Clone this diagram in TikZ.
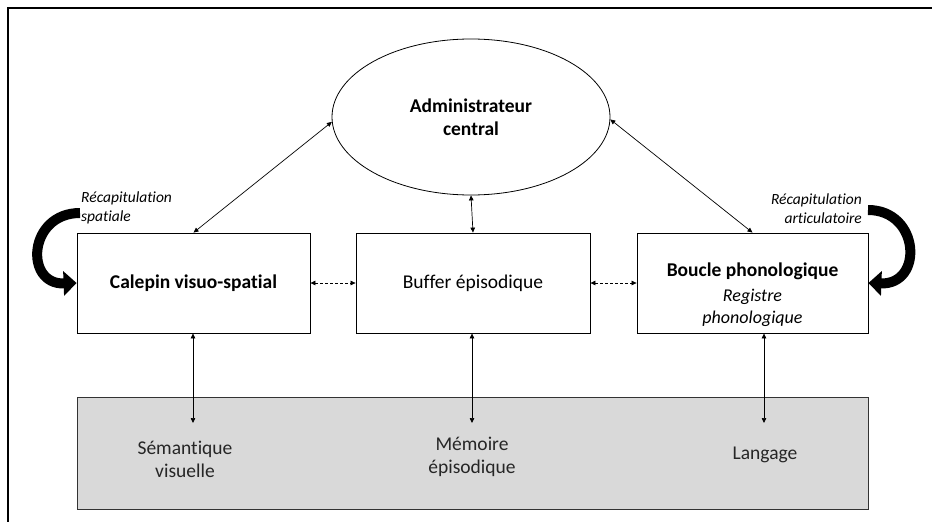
\documentclass[tikz,border=0pt]{standalone}
\usepackage{fontspec}
\setmainfont{Carlito}[Ligatures=NoCommon]
\usetikzlibrary{arrows.meta,shapes.geometric}
\begin{document}
\begin{tikzpicture}[x=1pt,y=-1pt,
  box/.style={draw, line width=0.8pt, minimum height=100pt, inner sep=0pt, align=center},
  txt/.style={inner sep=0pt, align=center, font=\fontsize{19.5}{23}\selectfont},
  lab/.style={inner sep=0pt, font=\fontsize{15.5}{19}\selectfont\itshape},
  dbl/.style={{Triangle[length=5pt,width=4.5pt]}-{Triangle[length=5pt,width=4.5pt]}, line width=0.7pt},
  dsh/.style={dbl, dash pattern=on 3pt off 2pt},
  bigarrow/.style={line width=10pt, -{Triangle[length=13pt,width=24pt]}}
]
\useasboundingbox (0,0) rectangle (932,522);
% outer frame (partly visible)
\draw[line width=2pt] (932,7.5) -- (8,7.5) -- (8,522);
% bottom grey band
\node[draw=black!80, fill=black!15, line width=0.9pt, minimum width=791pt, minimum height=112pt, inner sep=0pt] (lt) at (472.5,453) {};
% central executive
\node[draw, ellipse, line width=0.8pt, minimum width=278pt, minimum height=156pt, inner sep=0pt] (adm) at (471,117) {};
\node[txt, font=\fontsize{19.5}{23}\selectfont\bfseries] (admt) at (471,117.5) {Administrateur\\central};
% boxes
\node[box, minimum width=233pt] (cal) at (193.5,283) {};
\node[box, minimum width=234pt] (buf) at (473,283) {};
\node[box, minimum width=231pt] (bou) at (752.5,283) {};
\node[txt, font=\fontsize{19.5}{23}\selectfont\bfseries] (calt) at (193.5,283) {Calepin visuo-spatial};
\node[txt] (buft) at (473,283) {Buffer épisodique};
\node[txt, font=\fontsize{19.5}{23}\selectfont\bfseries] (bout) at (752.5,271) {Boucle phonologique};
\node[txt, font=\fontsize{18}{21.5}\selectfont\itshape] (reg) at (752.5,308) {Registre\\phonologique};
% rehearsal labels
\node[lab, anchor=west, align=left] (rs) at (81,207.5) {Récapitulation\\spatiale};
\node[lab, anchor=east, align=right] (ra) at (862,208.5) {Récapitulation\\articulatoire};
% long-term labels
\node[txt, text=black!85] (sem) at (185,459.5) {Sémantique\\visuelle};
\node[txt, text=black!85] (mem) at (472,456.5) {Mémoire\\épisodique};
\node[txt, text=black!85] (lan) at (765,455) {Langage};
% coordinates in grey band
\coordinate (c1) at (193,423);
\coordinate (c2) at (472,423);
\coordinate (c3) at (764,423);
\coordinate (rsa) at (80,213);
\coordinate (raa) at (868,210);
% connectors
\draw[dbl] (adm.182) -- (cal.north);
\draw[dbl] (adm.359) -- (bou.north);
\draw[dbl] (adm.south) -- (buf.north);
\draw[dsh] (cal.east) -- (buf.west);
\draw[dsh] (buf.east) -- (bou.west);
\draw[dbl] (cal.south -| c1) -- (c1);
\draw[dbl] (buf.south -| c2) -- (c2);
\draw[dbl] (bou.south -| c3) -- (c3);
% rehearsal loops
\draw[bigarrow] (rsa) .. controls (28,213) and (24,285) .. (cal.west);
\draw[bigarrow] (raa) .. controls (920,210) and (924,285) .. (bou.east);
\end{tikzpicture}
\end{document}
